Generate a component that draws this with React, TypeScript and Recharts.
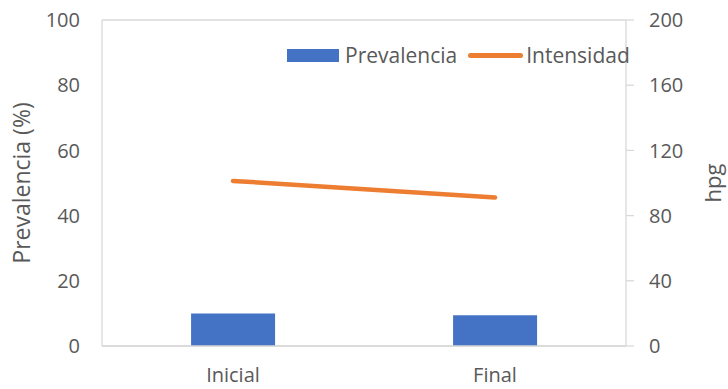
import React from 'react';
import { ComposedChart, Bar, Line, XAxis, YAxis, CartesianGrid } from 'recharts';

const categories = ['Inicial', 'Final'];
const prevalencia = [10.0, 9.4];
const intensidad = [101.3, 91.1];
const leftTicks = [0, 20, 40, 60, 80, 100];
const rightTicks = [0, 40, 80, 120, 160, 200];

const data = categories.map((name, i) => ({
    name,
    prevalencia: prevalencia[i],
    intensidad: intensidad[i]
}));

const FONT = '"Open Sans", "Liberation Sans", sans-serif';
const TEXT = '#595959';
const GRID = '#d9d9d9';
const FS = 20;

const LegendBox = () => (
    <div style={{
        position: 'absolute',
        top: 41,
        left: 287,
        display: 'flex',
        alignItems: 'center',
        fontFamily: FONT,
        fontSize: 21,
        color: TEXT,
        lineHeight: '28px',
        whiteSpace: 'nowrap'
    }}>
        <span style={{ display: 'inline-block', width: 52, height: 13, background: '#4472c4', marginRight: 6 }} />
        <span style={{ marginRight: 11 }}>Prevalencia</span>
        <span style={{ display: 'inline-block', width: 55, height: 5, borderRadius: 3, background: '#ed7d31', marginRight: 3 }} />
        <span>Intensidad</span>
    </div>
);

const App: React.FC = () => {
    return (
        <div style={{ position: 'relative', width: 728, height: 389, background: '#fff' }}>
            <style>{`body{margin:0}`}</style>
            <ComposedChart
                width={728}
                height={389}
                data={data}
                margin={{ top: 20, right: 0, bottom: 0, left: 0 }}
                barCategoryGap="34%"
            >
                <CartesianGrid vertical={false} stroke={GRID} strokeWidth={1.3} />
                <XAxis
                    dataKey="name"
                    height={43}
                    axisLine={{ stroke: GRID, strokeWidth: 1.3 }}
                    tickLine={false}
                    tickSize={0}
                    tickMargin={22}
                    tick={{ fill: TEXT, fontSize: FS, fontFamily: FONT }}
                />
                <YAxis
                    yAxisId="left"
                    domain={[0, 100]}
                    ticks={leftTicks}
                    width={102}
                    axisLine={{ stroke: GRID, strokeWidth: 1.3 }}
                    tickLine={false}
                    tickSize={0}
                    tickMargin={22}
                    tick={{ fill: TEXT, fontSize: FS, fontFamily: FONT }}
                    label={{
                        value: 'Prevalencia (%)',
                        angle: -90,
                        position: 'insideLeft',
                        dx: 17,
                        style: { fill: TEXT, fontSize: 23, fontFamily: FONT, textAnchor: 'middle' }
                    }}
                />
                <YAxis
                    yAxisId="right"
                    orientation="right"
                    domain={[0, 200]}
                    ticks={rightTicks}
                    width={102}
                    axisLine={{ stroke: GRID, strokeWidth: 1.3 }}
                    tickLine={{ stroke: GRID, strokeWidth: 1.3 }}
                    tickSize={8}
                    tickMargin={15}
                    tick={{ fill: TEXT, fontSize: FS, fontFamily: FONT }}
                    label={{
                        value: 'hpg',
                        angle: -90,
                        position: 'insideRight',
                        dx: -10,
                        style: { fill: TEXT, fontSize: 22, fontFamily: FONT, textAnchor: 'middle' }
                    }}
                />
                <Bar
                    yAxisId="left"
                    dataKey="prevalencia"
                    name="Prevalencia"
                    fill="#4472c4"
                    isAnimationActive={false}
                />
                <Line
                    yAxisId="right"
                    dataKey="intensidad"
                    name="Intensidad"
                    stroke="#ed7d31"
                    strokeWidth={4.5}
                    strokeLinecap="round"
                    dot={false}
                    activeDot={false}
                    isAnimationActive={false}
                />
            </ComposedChart>
            <LegendBox />
        </div>
    );
};

export default App;
